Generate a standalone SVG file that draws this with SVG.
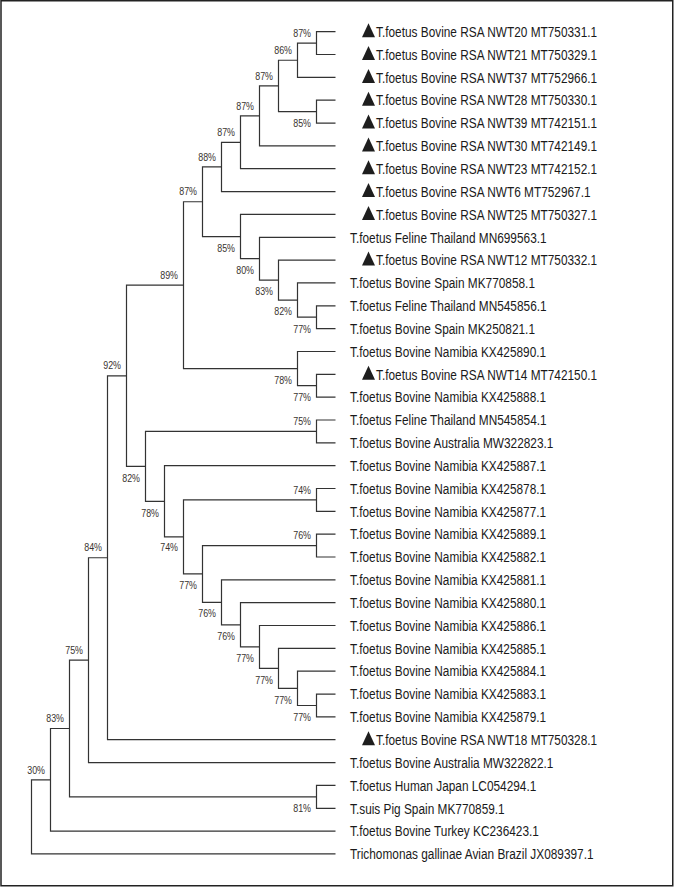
<svg xmlns="http://www.w3.org/2000/svg" width="674" height="887" viewBox="0 0 674 887">
<style>
.e{fill:none;stroke:#333;stroke-width:1.2}
.lf{font-family:"Liberation Sans",Arial,sans-serif;font-size:11.85px;fill:#1a1a1a}
.bs{font-family:"Liberation Sans",Arial,sans-serif;font-size:8.9px;fill:#3a3530;text-anchor:end}
.tri{fill:#1e1e1e}
</style>
<rect x="1" y="0.75" width="671.75" height="885" fill="#fff" stroke="#222" stroke-width="1.5"/>
<g id="connectors">
<path class="e" d="M335.5 31.7H316.5V54.5H335.5"/>
<path class="e" d="M316.5 43.1H297.5V77.4H335.5"/>
<path class="e" d="M335.5 100.2H316.5V123.1H335.5"/>
<path class="e" d="M297.5 60.25H278.5V111.65H316.5"/>
<path class="e" d="M278.5 85.95H259.5V145.9H335.5"/>
<path class="e" d="M259.5 115.9H240.5V168.7H335.5"/>
<path class="e" d="M240.5 142.3H221.5V191.6H335.5"/>
<path class="e" d="M335.5 305.8H316.5V328.6H335.5"/>
<path class="e" d="M335.5 282.9H297.5V317.2H316.5"/>
<path class="e" d="M335.5 260.1H278.5V300.05H297.5"/>
<path class="e" d="M335.5 237.3H259.5V280.1H278.5"/>
<path class="e" d="M335.5 214.4H240.5V258.7H259.5"/>
<path class="e" d="M221.5 166.95H202.5V236.55H240.5"/>
<path class="e" d="M335.5 374.3H316.5V397.1H335.5"/>
<path class="e" d="M335.5 351.5H297.5V385.7H316.5"/>
<path class="e" d="M202.5 201.75H183.5V368.6H297.5"/>
<path class="e" d="M335.5 420H316.5V442.8H335.5"/>
<path class="e" d="M335.5 488.5H316.5V511.3H335.5"/>
<path class="e" d="M335.5 534.2H316.5V557H335.5"/>
<path class="e" d="M335.5 694.1H316.5V716.9H335.5"/>
<path class="e" d="M335.5 671.2H297.5V705.5H316.5"/>
<path class="e" d="M335.5 648.4H278.5V688.35H297.5"/>
<path class="e" d="M335.5 625.5H259.5V668.4H278.5"/>
<path class="e" d="M335.5 602.7H240.5V646.95H259.5"/>
<path class="e" d="M335.5 579.9H221.5V624.8H240.5"/>
<path class="e" d="M316.5 545.6H202.5V602.35H221.5"/>
<path class="e" d="M316.5 499.9H183.5V573.95H202.5"/>
<path class="e" d="M335.5 465.7H164.5V536.9H183.5"/>
<path class="e" d="M316.5 431.4H145.5V501.3H164.5"/>
<path class="e" d="M183.5 285.2H126.5V466.35H145.5"/>
<path class="e" d="M126.5 375.8H107.5V739.7H335.5"/>
<path class="e" d="M107.5 557.75H88.5V762.6H335.5"/>
<path class="e" d="M335.5 785.4H316.5V808.3H335.5"/>
<path class="e" d="M88.5 660.2H69.5V796.85H316.5"/>
<path class="e" d="M69.5 728.5H50.5V831.1H335.5"/>
<path class="e" d="M50.5 779.8H31.5V853.9H335.5"/>
</g>
<g id="bootstrap">
<g id="nA"><text class="bs" transform="translate(311,36.7) scale(1,1.15)">87%</text></g>
<g id="nB"><text class="bs" transform="translate(292,53.85) scale(1,1.15)">86%</text></g>
<g id="nC"><text class="bs" transform="translate(273,79.55) scale(1,1.15)">87%</text></g>
<g id="nD"><text class="bs" transform="translate(311,127) scale(1,1.15)">85%</text></g>
<g id="nE"><text class="bs" transform="translate(254,109.5) scale(1,1.15)">87%</text></g>
<g id="nF"><text class="bs" transform="translate(235,135.9) scale(1,1.15)">87%</text></g>
<g id="nG"><text class="bs" transform="translate(216,160.55) scale(1,1.15)">88%</text></g>
<g id="nH"><text class="bs" transform="translate(197,195.35) scale(1,1.15)">87%</text></g>
<g id="nI"><text class="bs" transform="translate(178,278.8) scale(1,1.15)">89%</text></g>
<g id="nJ"><text class="bs" transform="translate(235,251.85) scale(1,1.15)">85%</text></g>
<g id="nK"><text class="bs" transform="translate(254,274) scale(1,1.15)">80%</text></g>
<g id="nL"><text class="bs" transform="translate(273,295.4) scale(1,1.15)">83%</text></g>
<g id="nM"><text class="bs" transform="translate(292,315.35) scale(1,1.15)">82%</text></g>
<g id="nN"><text class="bs" transform="translate(311,332.5) scale(1,1.15)">77%</text></g>
<g id="nO"><text class="bs" transform="translate(292,383.9) scale(1,1.15)">78%</text></g>
<g id="nP"><text class="bs" transform="translate(311,401) scale(1,1.15)">77%</text></g>
<g id="nR"><text class="bs" transform="translate(121,369.4) scale(1,1.15)">92%</text></g>
<g id="nT"><text class="bs" transform="translate(311,425) scale(1,1.15)">75%</text></g>
<g id="nS"><text class="bs" transform="translate(140,481.65) scale(1,1.15)">82%</text></g>
<g id="nU"><text class="bs" transform="translate(159,516.6) scale(1,1.15)">78%</text></g>
<g id="nW"><text class="bs" transform="translate(311,493.5) scale(1,1.15)">74%</text></g>
<g id="nV"><text class="bs" transform="translate(178,551) scale(1,1.15)">74%</text></g>
<g id="nY"><text class="bs" transform="translate(311,539.2) scale(1,1.15)">76%</text></g>
<g id="nX"><text class="bs" transform="translate(197,588.5) scale(1,1.15)">77%</text></g>
<g id="nZ"><text class="bs" transform="translate(216,617) scale(1,1.15)">76%</text></g>
<g id="nAA"><text class="bs" transform="translate(235,640.1) scale(1,1.15)">76%</text></g>
<g id="nAB"><text class="bs" transform="translate(254,661.8) scale(1,1.15)">77%</text></g>
<g id="nAC"><text class="bs" transform="translate(273,683.5) scale(1,1.15)">77%</text></g>
<g id="nAD"><text class="bs" transform="translate(292,703.5) scale(1,1.15)">77%</text></g>
<g id="nAE"><text class="bs" transform="translate(311,720.6) scale(1,1.15)">77%</text></g>
<g id="nQ"><text class="bs" transform="translate(102,551) scale(1,1.15)">84%</text></g>
<g id="nAF"><text class="bs" transform="translate(83,653.5) scale(1,1.15)">75%</text></g>
<g id="nAG"><text class="bs" transform="translate(64,722.3) scale(1,1.15)">83%</text></g>
<g id="nAH"><text class="bs" transform="translate(311,812.3) scale(1,1.15)">81%</text></g>
<g id="nAI"><text class="bs" transform="translate(45,773.6) scale(1,1.15)">30%</text></g>
</g>
<g id="leaves">
<g id="leaf0"><polygon class="tri" points="362,37.2 375,37.2 368.5,23.2"/><text class="lf" transform="translate(376,36.9) scale(1,1.2)">T.foetus Bovine RSA NWT20 MT750331.1</text></g>
<g id="leaf1"><polygon class="tri" points="362,60 375,60 368.5,46"/><text class="lf" transform="translate(376,59.7) scale(1,1.2)">T.foetus Bovine RSA NWT21 MT750329.1</text></g>
<g id="leaf2"><polygon class="tri" points="362,82.9 375,82.9 368.5,68.9"/><text class="lf" transform="translate(376,82.6) scale(1,1.2)">T.foetus Bovine RSA NWT37 MT752966.1</text></g>
<g id="leaf3"><polygon class="tri" points="362,105.7 375,105.7 368.5,91.7"/><text class="lf" transform="translate(376,105.4) scale(1,1.2)">T.foetus Bovine RSA NWT28 MT750330.1</text></g>
<g id="leaf4"><polygon class="tri" points="362,128.6 375,128.6 368.5,114.6"/><text class="lf" transform="translate(376,128.3) scale(1,1.2)">T.foetus Bovine RSA NWT39 MT742151.1</text></g>
<g id="leaf5"><polygon class="tri" points="362,151.4 375,151.4 368.5,137.4"/><text class="lf" transform="translate(376,151.1) scale(1,1.2)">T.foetus Bovine RSA NWT30 MT742149.1</text></g>
<g id="leaf6"><polygon class="tri" points="362,174.2 375,174.2 368.5,160.2"/><text class="lf" transform="translate(376,173.9) scale(1,1.2)">T.foetus Bovine RSA NWT23 MT742152.1</text></g>
<g id="leaf7"><polygon class="tri" points="362,197.1 375,197.1 368.5,183.1"/><text class="lf" transform="translate(376,196.8) scale(1,1.2)">T.foetus Bovine RSA NWT6 MT752967.1</text></g>
<g id="leaf8"><polygon class="tri" points="362,219.9 375,219.9 368.5,205.9"/><text class="lf" transform="translate(376,219.6) scale(1,1.2)">T.foetus Bovine RSA NWT25 MT750327.1</text></g>
<g id="leaf9"><text class="lf" transform="translate(350,242.5) scale(1,1.2)">T.foetus Feline Thailand MN699563.1</text></g>
<g id="leaf10"><polygon class="tri" points="362,265.6 375,265.6 368.5,251.6"/><text class="lf" transform="translate(376,265.3) scale(1,1.2)">T.foetus Bovine RSA NWT12 MT750332.1</text></g>
<g id="leaf11"><text class="lf" transform="translate(350,288.1) scale(1,1.2)">T.foetus Bovine Spain MK770858.1</text></g>
<g id="leaf12"><text class="lf" transform="translate(350,311) scale(1,1.2)">T.foetus Feline Thailand MN545856.1</text></g>
<g id="leaf13"><text class="lf" transform="translate(350,333.8) scale(1,1.2)">T.foetus Bovine Spain MK250821.1</text></g>
<g id="leaf14"><text class="lf" transform="translate(350,356.7) scale(1,1.2)">T.foetus Bovine Namibia KX425890.1</text></g>
<g id="leaf15"><polygon class="tri" points="362,379.8 375,379.8 368.5,365.8"/><text class="lf" transform="translate(376,379.5) scale(1,1.2)">T.foetus Bovine RSA NWT14 MT742150.1</text></g>
<g id="leaf16"><text class="lf" transform="translate(350,402.3) scale(1,1.2)">T.foetus Bovine Namibia KX425888.1</text></g>
<g id="leaf17"><text class="lf" transform="translate(350,425.2) scale(1,1.2)">T.foetus Feline Thailand MN545854.1</text></g>
<g id="leaf18"><text class="lf" transform="translate(350,448) scale(1,1.2)">T.foetus Bovine Australia MW322823.1</text></g>
<g id="leaf19"><text class="lf" transform="translate(350,470.9) scale(1,1.2)">T.foetus Bovine Namibia KX425887.1</text></g>
<g id="leaf20"><text class="lf" transform="translate(350,493.7) scale(1,1.2)">T.foetus Bovine Namibia KX425878.1</text></g>
<g id="leaf21"><text class="lf" transform="translate(350,516.5) scale(1,1.2)">T.foetus Bovine Namibia KX425877.1</text></g>
<g id="leaf22"><text class="lf" transform="translate(350,539.4) scale(1,1.2)">T.foetus Bovine Namibia KX425889.1</text></g>
<g id="leaf23"><text class="lf" transform="translate(350,562.2) scale(1,1.2)">T.foetus Bovine Namibia KX425882.1</text></g>
<g id="leaf24"><text class="lf" transform="translate(350,585.1) scale(1,1.2)">T.foetus Bovine Namibia KX425881.1</text></g>
<g id="leaf25"><text class="lf" transform="translate(350,607.9) scale(1,1.2)">T.foetus Bovine Namibia KX425880.1</text></g>
<g id="leaf26"><text class="lf" transform="translate(350,630.7) scale(1,1.2)">T.foetus Bovine Namibia KX425886.1</text></g>
<g id="leaf27"><text class="lf" transform="translate(350,653.6) scale(1,1.2)">T.foetus Bovine Namibia KX425885.1</text></g>
<g id="leaf28"><text class="lf" transform="translate(350,676.4) scale(1,1.2)">T.foetus Bovine Namibia KX425884.1</text></g>
<g id="leaf29"><text class="lf" transform="translate(350,699.3) scale(1,1.2)">T.foetus Bovine Namibia KX425883.1</text></g>
<g id="leaf30"><text class="lf" transform="translate(350,722.1) scale(1,1.2)">T.foetus Bovine Namibia KX425879.1</text></g>
<g id="leaf31"><polygon class="tri" points="362,745.2 375,745.2 368.5,731.2"/><text class="lf" transform="translate(376,744.9) scale(1,1.2)">T.foetus Bovine RSA NWT18 MT750328.1</text></g>
<g id="leaf32"><text class="lf" transform="translate(350,767.8) scale(1,1.2)">T.foetus Bovine Australia MW322822.1</text></g>
<g id="leaf33"><text class="lf" transform="translate(350,790.6) scale(1,1.2)">T.foetus Human Japan LC054294.1</text></g>
<g id="leaf34"><text class="lf" transform="translate(350,813.5) scale(1,1.2)">T.suis Pig Spain MK770859.1</text></g>
<g id="leaf35"><text class="lf" transform="translate(350,836.3) scale(1,1.2)">T.foetus Bovine Turkey KC236423.1</text></g>
<g id="leaf36"><text class="lf" transform="translate(350,859.1) scale(1,1.2)">Trichomonas gallinae Avian Brazil JX089397.1</text></g>
</g>
</svg>
